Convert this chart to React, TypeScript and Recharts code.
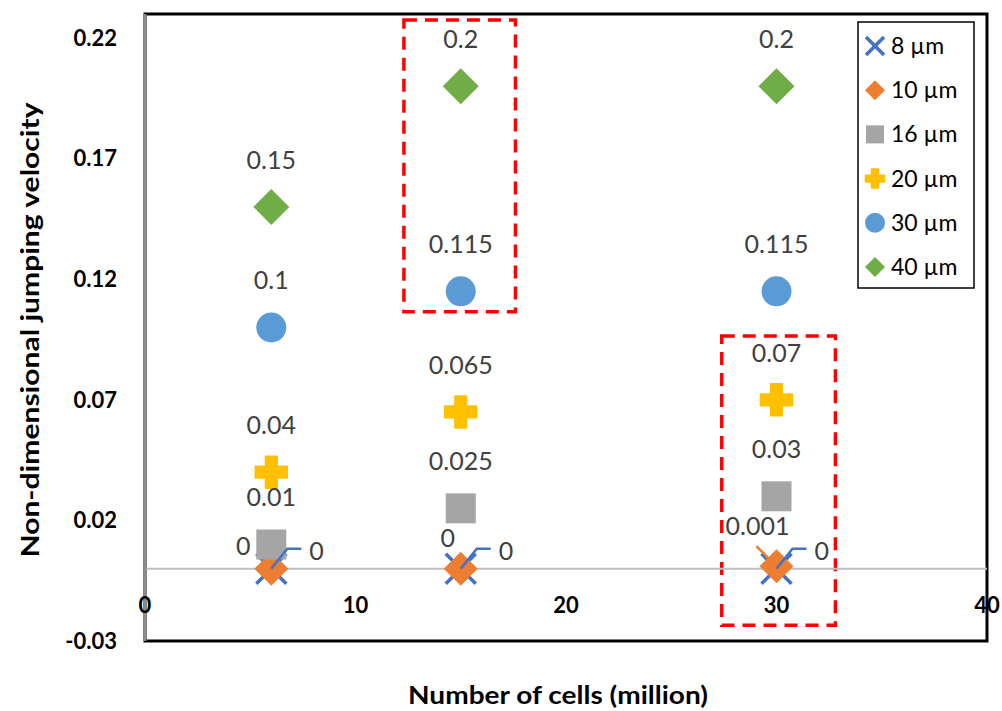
import React from "react";
import {
  ScatterChart,
  Scatter,
  XAxis,
  YAxis,
  ReferenceLine,
  ReferenceArea,
  Legend,
} from "recharts";

// number of cells (million)
const cells = [6, 15, 30];
// non-dimensional jumping velocity per droplet size
const um8 = [0, 0, 0];
const um10 = [0, 0, 0.001];
const um16 = [0.01, 0.025, 0.03];
const um20 = [0.04, 0.065, 0.07];
const um30 = [0.1, 0.115, 0.115];
const um40 = [0.15, 0.2, 0.2];

const xTicks = [0, 10, 20, 30, 40];
const yTicks = [-0.03, 0.02, 0.07, 0.12, 0.17, 0.22];
const seriesNames = ["8 µm", "10 µm", "16 µm", "20 µm", "30 µm", "40 µm"];

// highlighted regions (x from, x to, y from, y to)
const boxA = [12.3, 17.6, 0.1065, 0.2275];
const boxB = [27.4, 32.8, -0.0235, 0.0965];

// label nudges for the 10 µm labels (dx, dy)
const tenShift = [
  [-28, -22],
  [-13, -30],
  [-19, -40],
];

const FONT = "Lato, 'Open Sans', sans-serif";
const C8 = "#4472C4";
const C10 = "#ED7D31";
const C16 = "#A5A5A5";
const C20 = "#FFC000";
const C30 = "#5B9BD5";
const C40 = "#70AD47";
const LABEL = "#404040";

type Pt = { x: number; y: number; i: number };
const pts = (vals: number[]): Pt[] =>
  cells.map((x, i) => ({ x, y: vals[i], i }));

const xMark = (cx: number, cy: number, r: number, w: number) => (
  <g stroke={C8} strokeWidth={w}>
    <line x1={cx - r} y1={cy - r} x2={cx + r} y2={cy + r} />
    <line x1={cx - r} y1={cy + r} x2={cx + r} y2={cy - r} />
  </g>
);
const diamond = (cx: number, cy: number, r: number, fill: string) => (
  <polygon
    points={`${cx},${cy - r} ${cx + r},${cy} ${cx},${cy + r} ${cx - r},${cy}`}
    fill={fill}
  />
);
const square = (cx: number, cy: number, s: number) => (
  <rect x={cx - s / 2} y={cy - s / 2} width={s} height={s} fill={C16} />
);
const plus = (cx: number, cy: number, s: number) => {
  const a = s / 2;
  const t = s / 5.5;
  return (
    <path
      d={`M${cx - t},${cy - a} H${cx + t} V${cy - t} H${cx + a} V${cy + t} H${cx + t} V${cy + a} H${cx - t} V${cy + t} H${cx - a} V${cy - t} H${cx - t} Z`}
      fill={C20}
      stroke={C20}
      strokeWidth={1.5}
      strokeLinejoin="round"
    />
  );
};
const circle = (cx: number, cy: number, r: number) => (
  <circle cx={cx} cy={cy} r={r} fill={C30} />
);

const legendMarks = [
  (x: number, y: number) => xMark(x, y, 9, 3.5),
  (x: number, y: number) => diamond(x, y, 10, C10),
  (x: number, y: number) => square(x, y, 18),
  (x: number, y: number) => plus(x, y, 19),
  (x: number, y: number) => circle(x, y, 10),
  (x: number, y: number) => diamond(x, y, 10, C40),
];

const LegendBox = () => (
  <svg width={118} height={268} style={{ display: "block" }}>
    <rect x={1} y={1} width={116} height={266} fill="#fff" stroke="#000" strokeWidth={1.5} />
    {seriesNames.map((name, k) => (
      <g key={name}>
        {legendMarks[k](18, 25 + k * 44.2)}
        <text
          x={34}
          y={25 + k * 44.2}
          dy="0.35em"
          fontFamily={FONT}
          fontSize={23}
          fill="#000"
        >
          {name}
        </text>
      </g>
    ))}
  </svg>
);

const valueText = (v: number) => String(v);

const topLabel = (p: any) => (
  <text
    x={p.cx}
    y={p.cy - 47}
    dy="0.35em"
    textAnchor="middle"
    fontFamily={FONT}
    fontSize={25}
    fill={LABEL}
  >
    {valueText(p.payload.y)}
  </text>
);

const label8 = (p: any) => (
  <g>
    <polyline
      points={`${p.cx},${p.cy} ${p.cx + 16},${p.cy - 20} ${p.cx + 30},${p.cy - 20}`}
      fill="none"
      stroke={C8}
      strokeWidth={2.5}
    />
    <text
      x={p.cx + 38}
      y={p.cy - 17}
      dy="0.35em"
      fontFamily={FONT}
      fontSize={25}
      fill={LABEL}
    >
      {valueText(p.payload.y)}
    </text>
  </g>
);

const label10 = (p: any) => {
  const [dx, dy] = tenShift[p.payload.i];
  return (
    <g>
      {p.payload.i === 2 && (
        <line
          x1={p.cx - 20}
          y1={p.cy - 20}
          x2={p.cx}
          y2={p.cy}
          stroke={C10}
          strokeWidth={2.5}
        />
      )}
      <text
        x={p.cx + dx}
        y={p.cy + dy}
        dy="0.35em"
        textAnchor="middle"
        fontFamily={FONT}
        fontSize={25}
        fill={LABEL}
      >
        {valueText(p.payload.y)}
      </text>
    </g>
  );
};

// x labels sit just under the zero line, not at the plot bottom
const XTick = (p: any) => (
  <text
    x={p.x}
    y={p.y - 36}
    dy="0.35em"
    textAnchor="middle"
    fontFamily={FONT}
    fontWeight={700}
    fontSize={22}
    fill="#000"
  >
    {p.payload.value}
  </text>
);

const YTick = (p: any) => (
  <text
    x={p.x}
    y={p.y}
    dy="0.35em"
    textAnchor="end"
    fontFamily={FONT}
    fontWeight={700}
    fontSize={22}
    fill="#000"
  >
    {p.payload.value}
  </text>
);

export default function App() {
  return (
    <div style={{ position: "absolute", left: 0, top: 0, width: 1002, height: 711, background: "#fff" }}>
      <ScatterChart
        width={1002}
        height={711}
        margin={{ top: 14, right: 15, bottom: 40, left: 0 }}
      >
        <XAxis
          type="number"
          dataKey="x"
          domain={[0, 40]}
          ticks={xTicks}
          interval={0}
          axisLine={false}
          tickLine={false}
          tickSize={0}
          tickMargin={0}
          height={30}
          tick={<XTick />}
          label={{
            content: () => (
              <text
                x={558}
                y={695}
                dy="0.35em"
                textAnchor="middle"
                fontFamily={FONT}
                fontWeight={700}
                fontSize={25}
                textLength={300}
                lengthAdjust="spacingAndGlyphs"
                fill="#000"
              >
                Number of cells (million)
              </text>
            ),
          }}
        />
        <YAxis
          type="number"
          dataKey="y"
          domain={[-0.03, 0.23]}
          ticks={yTicks}
          width={145}
          axisLine={{ stroke: "#8c8c8c", strokeWidth: 3 }}
          tickLine={false}
          tickSize={0}
          tickMargin={28}
          tick={<YTick />}
          label={{
            content: () => (
              <text
                x={30}
                y={330}
                dy="0.35em"
                textAnchor="middle"
                transform="rotate(-90 30 330)"
                fontFamily={FONT}
                fontWeight={700}
                fontSize={25}
                textLength={455}
                lengthAdjust="spacingAndGlyphs"
                fill="#000"
              >
                Non-dimensional jumping velocity
              </text>
            ),
          }}
        />
        <ReferenceArea
          x1={0}
          x2={40}
          y1={-0.03}
          y2={0.23}
          fill="none"
          stroke="#000"
          strokeWidth={3}
          ifOverflow="visible"
        />
        <ReferenceLine y={0} stroke="#bfbfbf" strokeWidth={2} />
        <ReferenceArea
          x1={boxA[0]}
          x2={boxA[1]}
          y1={boxA[2]}
          y2={boxA[3]}
          fill="none"
          stroke="#ff0000"
          strokeWidth={3.5}
          strokeDasharray="13 8"
          ifOverflow="visible"
        />
        <ReferenceArea
          x1={boxB[0]}
          x2={boxB[1]}
          y1={boxB[2]}
          y2={boxB[3]}
          fill="none"
          stroke="#ff0000"
          strokeWidth={3.5}
          strokeDasharray="13 8"
          ifOverflow="visible"
        />
        <Scatter data={pts(um8)} isAnimationActive={false} shape={(p: any) => xMark(p.cx, p.cy, 15, 3.5)} />
        <Scatter data={pts(um10)} isAnimationActive={false} shape={(p: any) => diamond(p.cx, p.cy, 17, C10)} />
        <Scatter data={pts(um16)} isAnimationActive={false} shape={(p: any) => square(p.cx, p.cy, 30)} />
        <Scatter data={pts(um20)} isAnimationActive={false} shape={(p: any) => plus(p.cx, p.cy, 32)} />
        <Scatter data={pts(um30)} isAnimationActive={false} shape={(p: any) => circle(p.cx, p.cy, 15)} />
        <Scatter data={pts(um40)} isAnimationActive={false} shape={(p: any) => diamond(p.cx, p.cy, 18, C40)} />
        {/* data labels on top of all markers */}
        <Scatter data={pts(um8)} isAnimationActive={false} shape={label8} legendType="none" />
        <Scatter data={pts(um10)} isAnimationActive={false} shape={label10} legendType="none" />
        <Scatter data={pts(um16)} isAnimationActive={false} shape={topLabel} legendType="none" />
        <Scatter data={pts(um20)} isAnimationActive={false} shape={topLabel} legendType="none" />
        <Scatter data={pts(um30)} isAnimationActive={false} shape={topLabel} legendType="none" />
        <Scatter data={pts(um40)} isAnimationActive={false} shape={topLabel} legendType="none" />
        <Legend
          layout="horizontal"
          align="center"
          verticalAlign="middle"
          content={() => <LegendBox />}
          wrapperStyle={{ left: 857, top: 21, width: 118, height: 268 }}
        />
      </ScatterChart>
    </div>
  );
}
